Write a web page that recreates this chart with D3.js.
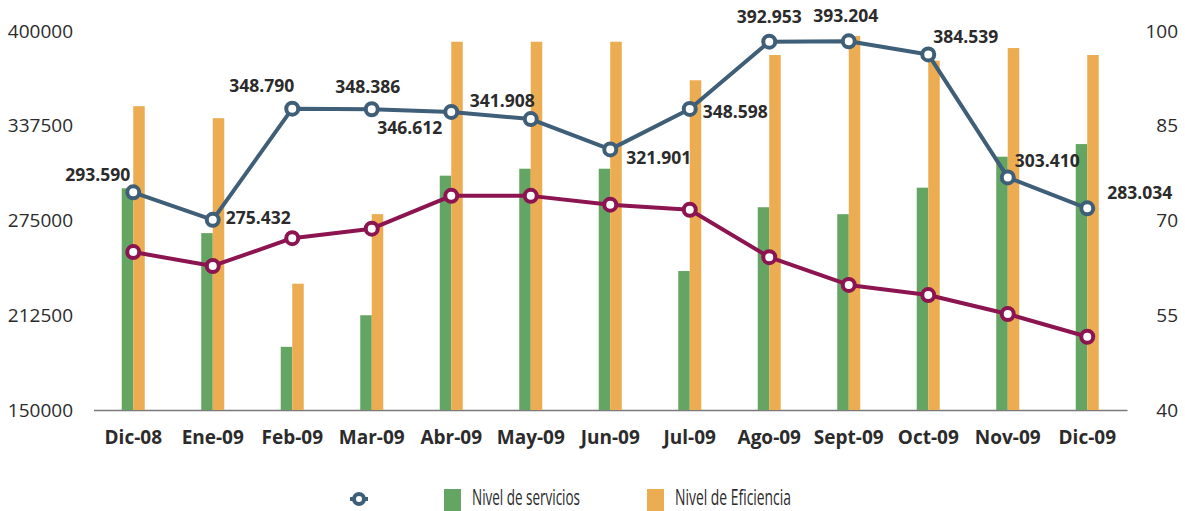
<!DOCTYPE html>
<html>
<head>
<meta charset="utf-8">
<script src="https://cdn.jsdelivr.net/npm/d3@7"></script>
<style>
  body { margin: 0; background: #fff; }
  text { font-family: "Open Sans", "Noto Sans", sans-serif; }
</style>
</head>
<body>
<div id="chart"></div>
<script>
const width = 1185;
const height = 511;

// Data
const months = ["Dic-08", "Ene-09", "Feb-09", "Mar-09", "Abr-09", "May-09", "Jun-09",
                "Jul-09", "Ago-09", "Sept-09", "Oct-09", "Nov-09", "Dic-09"];
const totals = [293590, 275432, 348790, 348386, 346612, 341908, 321901,
                348598, 392953, 393204, 384539, 303410, 283034];
const totalLabels = ["293.590", "275.432", "348.790", "348.386", "346.612", "341.908", "321.901",
                     "348.598", "392.953", "393.204", "384.539", "303.410", "283.034"];
const redLine = [65.0, 62.8, 67.2, 68.7, 73.9, 73.9, 72.5, 71.7, 64.2, 59.8, 58.2, 55.2, 51.6];
const servicios = [75.1, 68.0, 50.0, 55.0, 77.1, 78.2, 78.2, 62.0, 72.1, 71.0, 75.2, 80.1, 82.1];
const eficiencia = [88.1, 86.2, 60.0, 71.0, 98.3, 98.3, 98.3, 92.2, 96.2, 99.2, 95.3, 97.3, 96.2];
const leftTicks = [150000, 212500, 275000, 337500, 400000];
const rightTicks = [40, 55, 70, 85, 100];

// label placement around each blue point: [anchor, dx, dy]
const labelPos = [
  ["end", -3, -11], ["start", 13, 4], ["end", 2, -17], ["middle", -4, -16],
  ["end", -9, 22], ["end", 4, -12], ["start", 16, 15], ["start", 13, 9],
  ["middle", 0, -19], ["middle", -3, -19], ["start", 5, -11], ["start", 7, -10],
  ["start", 20, -9]
];

const blue = "#3f5e77";
const red = "#8c1450";
const green = "#65a564";
const orange = "#ecac52";

const svg = d3.select("#chart")
    .append("svg")
    .attr("width", width)
    .attr("height", height);

// Scales
const x = d3.scaleBand()
    .domain(months)
    .range([93.5, 1127])
    .padding(0);

const sub = d3.scaleBand()
    .domain(["servicios", "eficiencia"])
    .range([-11.5, 11.5]);

const yLeft = d3.scaleLinear()
    .domain([150000, 400000])
    .range([410, 31]);

const yRight = d3.scaleLinear()
    .domain([40, 100])
    .range([410, 31]);

const cx = d => x(d) + x.bandwidth() / 2;

// ----- Axes -----
const gL = svg.append("g")
    .attr("transform", "translate(73,0)")
    .call(d3.axisLeft(yLeft).tickValues(leftTicks).tickSize(0).tickPadding(0).tickFormat(d3.format("d")));
gL.select(".domain").remove();

const gR = svg.append("g")
    .attr("transform", "translate(1178,0)")
    .call(d3.axisLeft(yRight).tickValues(rightTicks).tickSize(0).tickPadding(0));
gR.select(".domain").remove();

svg.selectAll(".tick text")
    .attr("font-size", 19)
    .attr("fill", "#2b2b2b")
    .attr("font-family", "'Open Sans', sans-serif");

const gX = svg.append("g")
    .attr("transform", "translate(0,410)")
    .call(d3.axisBottom(x).tickSize(0).tickPadding(21));
gX.select(".domain").attr("stroke", "#7a7a7a").attr("stroke-width", 1.5);
gX.selectAll("text")
    .attr("font-size", 19)
    .attr("font-weight", "bold")
    .attr("fill", "#2b2b2b");

// ----- Bars -----
const bars = svg.append("g");
bars.selectAll("rect.serv")
    .data(servicios)
    .enter()
    .append("rect")
    .attr("class", "serv")
    .attr("x", (d, i) => cx(months[i]) + sub("servicios"))
    .attr("width", sub.bandwidth())
    .attr("y", d => yRight(d))
    .attr("height", d => yRight(40) - yRight(d))
    .attr("fill", green);

bars.selectAll("rect.efi")
    .data(eficiencia)
    .enter()
    .append("rect")
    .attr("class", "efi")
    .attr("x", (d, i) => cx(months[i]) + sub("eficiencia"))
    .attr("width", sub.bandwidth())
    .attr("y", d => yRight(d))
    .attr("height", d => yRight(40) - yRight(d))
    .attr("fill", orange);

// ----- Lines -----
function drawLine(values, yScale, color) {
    const line = d3.line()
        .x((d, i) => cx(months[i]))
        .y(d => yScale(d));
    svg.append("path")
        .datum(values)
        .attr("d", line)
        .attr("fill", "none")
        .attr("stroke", color)
        .attr("stroke-width", 4)
        .attr("stroke-linejoin", "round");
    svg.append("g")
        .selectAll("circle")
        .data(values)
        .enter()
        .append("circle")
        .attr("cx", (d, i) => cx(months[i]))
        .attr("cy", d => yScale(d))
        .attr("r", 6)
        .attr("fill", "#fff")
        .attr("stroke", color)
        .attr("stroke-width", 4);
}

drawLine(redLine, yRight, red);
drawLine(totals, yLeft, blue);

// Value labels
svg.append("g")
    .selectAll("text")
    .data(totals)
    .enter()
    .append("text")
    .attr("x", (d, i) => cx(months[i]) + labelPos[i][1])
    .attr("y", (d, i) => yLeft(d) + labelPos[i][2])
    .attr("text-anchor", (d, i) => labelPos[i][0])
    .attr("font-size", 17.5)
    .attr("font-weight", "bold")
    .attr("fill", "#2b2b2b")
    .text((d, i) => totalLabels[i]);

// ----- Legend -----
const legend = svg.append("g");
legend.append("line")
    .attr("x1", 350).attr("x2", 368)
    .attr("y1", 499).attr("y2", 499)
    .attr("stroke", blue).attr("stroke-width", 4);
legend.append("circle")
    .attr("cx", 359).attr("cy", 499).attr("r", 5)
    .attr("fill", "#fff").attr("stroke", blue).attr("stroke-width", 4);

const legendItems = [
    { label: "Nivel de servicios", color: green, x: 444, w: 108 },
    { label: "Nivel de Eficiencia", color: orange, x: 647, w: 116 }
];
legendItems.forEach(d => {
    legend.append("rect")
        .attr("x", d.x).attr("y", 489)
        .attr("width", 17).attr("height", 22)
        .attr("fill", d.color);
    legend.append("text")
        .attr("x", d.x + 28)
        .attr("y", 505)
        .attr("font-size", 21)
        .attr("fill", "#2b2b2b")
        .attr("textLength", d.w)
        .attr("lengthAdjust", "spacingAndGlyphs")
        .text(d.label);
});
</script>
</body>
</html>
